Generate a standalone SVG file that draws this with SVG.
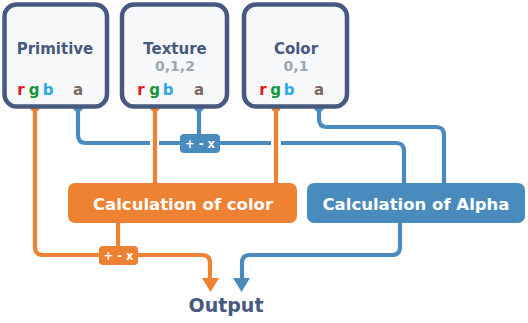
<svg xmlns="http://www.w3.org/2000/svg" width="528" height="323" viewBox="0 0 528 323">
  <style>
    .src { fill: #f7f8f9; stroke: #48597f; stroke-width: 4.5; }
    .title { font-family: "DejaVu Sans", Verdana, sans-serif; font-weight: bold; font-size: 15px; fill: #48597f; text-anchor: middle; }
    .sub { font-family: "DejaVu Sans", Verdana, sans-serif; font-weight: bold; font-size: 14px; fill: #9aa8b6; text-anchor: middle; }
    .ch { font-family: "DejaVu Sans", Verdana, sans-serif; font-weight: bold; font-size: 15px; text-anchor: middle; }
    .r { fill: #e3161f; } .g { fill: #13973e; } .b { fill: #2ea7ea; } .a { fill: #7b6a5c; }
    .calc { font-family: "DejaVu Sans", Verdana, sans-serif; font-weight: bold; font-size: 16.5px; fill: #ffffff; text-anchor: middle; }
    .op { font-family: "DejaVu Sans", Verdana, sans-serif; font-weight: bold; font-size: 11.5px; fill: #ffffff; text-anchor: middle; }
    .ol { fill: none; stroke: #ef8232; stroke-width: 4.2; }
    .bl { fill: none; stroke: #4a8bbd; stroke-width: 4.2; }
    .out { font-family: "DejaVu Sans", Verdana, sans-serif; font-weight: bold; font-size: 19px; fill: #48597f; text-anchor: middle; }
  </style>

  <!-- connectors -->
  <g id="connectors">
    <!-- alpha paths -->
    <path class="bl" d="M78,110 V135 Q78,143 86,143 H150"/>
    <path class="bl" d="M159,143 H271"/>
    <path class="bl" d="M281,143 H396 Q404,143 404,151 V185"/>
    <path class="bl" d="M199,110 V136"/>
    <path class="bl" d="M319,110 V119 Q319,127 327,127 H436 Q444,127 444,135 V185"/>
    <path class="bl" d="M400,221 V247 Q400,255 392,255 H250 Q242,255 242,263 V280"/>
    <polygon fill="#4a8bbd" points="233,278 250,278 241.5,292"/>
    <!-- color paths -->
    <path class="ol" d="M35,110 V247 Q35,255 43,255 H202 Q210,255 210,263 V280"/>
    <polygon fill="#ef8232" points="202,278 219,278 210.5,292"/>
    <path class="ol" d="M155,110 V185"/>
    <path class="ol" d="M276,110 V185"/>
    <path class="ol" d="M118,221 V248"/>
    <!-- operator badges -->
    <rect x="180" y="134" width="40" height="19" rx="4" fill="#4a8bbd"/>
    <text class="op" x="200" y="147.5">+ - x</text>
    <rect x="99" y="246" width="39" height="19" rx="4" fill="#ef8232"/>
    <text class="op" x="118.5" y="259.5">+ - x</text>
    <!-- ports -->
    <circle cx="35" cy="107" r="5" fill="#ef8232"/>
    <circle cx="78" cy="107" r="5" fill="#4a8bbd"/>
    <circle cx="155" cy="107" r="5" fill="#ef8232"/>
    <circle cx="199" cy="107" r="5" fill="#4a8bbd"/>
    <circle cx="276" cy="107" r="5" fill="#ef8232"/>
    <circle cx="319" cy="107" r="5" fill="#4a8bbd"/>
  </g>

  <g id="primitive">
    <rect class="src" x="4.5" y="4.5" width="102.5" height="102" rx="12"/>
    <text class="title" x="55" y="54">Primitive</text>
    <text class="ch r" x="21" y="95">r</text>
    <text class="ch g" x="34" y="95">g</text>
    <text class="ch b" x="48" y="95">b</text>
    <text class="ch a" x="78" y="95">a</text>
  </g>

  <g id="texture">
    <rect class="src" x="122" y="4.5" width="105" height="102" rx="12"/>
    <text class="title" x="175" y="54">Texture</text>
    <text class="sub" x="175" y="71">0,1,2</text>
    <text class="ch r" x="141" y="95">r</text>
    <text class="ch g" x="154.5" y="95">g</text>
    <text class="ch b" x="168" y="95">b</text>
    <text class="ch a" x="199" y="95">a</text>
  </g>

  <g id="color">
    <rect class="src" x="244" y="4.5" width="103" height="102" rx="12"/>
    <text class="title" x="296" y="54">Color</text>
    <text class="sub" x="296" y="71">0,1</text>
    <text class="ch r" x="263" y="95">r</text>
    <text class="ch g" x="275.5" y="95">g</text>
    <text class="ch b" x="289" y="95">b</text>
    <text class="ch a" x="319" y="95">a</text>
  </g>

  <g id="calc-color">
    <rect x="68" y="183" width="229" height="40" rx="7" fill="#ef8232"/>
    <text class="calc" x="183" y="209.5">Calculation of color</text>
  </g>

  <g id="calc-alpha">
    <rect x="307" y="183" width="218" height="40" rx="7" fill="#4a8bbd"/>
    <text class="calc" x="416" y="209.5">Calculation of Alpha</text>
  </g>

  <g id="output">
    <text class="out" x="226" y="312">Output</text>
  </g>
</svg>
